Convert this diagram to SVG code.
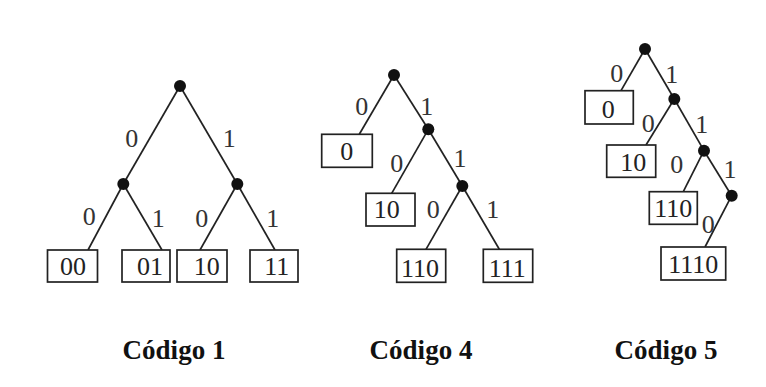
<svg xmlns="http://www.w3.org/2000/svg" width="766" height="387" viewBox="0 0 766 387">
  <style>
    .edge { stroke: #222; stroke-width: 1.7; fill: none; }
    .dot { fill: #111; }
    .leaf rect { fill: #fff; stroke: #222; stroke-width: 1.7; }
    text { font-family: "Liberation Serif", "Times New Roman", serif; fill: #222; }
    .bit { font-size: 26px; text-anchor: middle; fill: #333; }
    .code { font-size: 26px; text-anchor: middle; }
    .title { font-size: 27px; font-weight: bold; text-anchor: middle; fill: #111; }
  </style>
  <rect width="766" height="387" fill="#fff"/>

  <!-- Branches of the three trees -->
  <g id="connectors">
    <!-- Código 1 -->
    <line class="edge" x1="180" y1="86" x2="123.3" y2="184"/>
    <line class="edge" x1="180" y1="86" x2="237.3" y2="184"/>
    <line class="edge" x1="123.3" y1="184" x2="88" y2="250"/>
    <line class="edge" x1="123.3" y1="184" x2="162" y2="250"/>
    <line class="edge" x1="237.3" y1="184" x2="200" y2="250"/>
    <line class="edge" x1="237.3" y1="184" x2="275" y2="250"/>
    <!-- Código 4 -->
    <line class="edge" x1="394" y1="75" x2="359.3" y2="134.3"/>
    <line class="edge" x1="394" y1="75" x2="428.3" y2="129.3"/>
    <line class="edge" x1="428.3" y1="129.3" x2="391.7" y2="193.3"/>
    <line class="edge" x1="428.3" y1="129.3" x2="462.3" y2="186"/>
    <line class="edge" x1="462.3" y1="186" x2="426" y2="249.3"/>
    <line class="edge" x1="462.3" y1="186" x2="499.3" y2="249.3"/>
    <!-- Código 5 -->
    <line class="edge" x1="645" y1="49" x2="621" y2="90.7"/>
    <line class="edge" x1="645" y1="49" x2="674.3" y2="99"/>
    <line class="edge" x1="674.3" y1="99" x2="646" y2="145"/>
    <line class="edge" x1="674.3" y1="99" x2="704" y2="150.7"/>
    <line class="edge" x1="704" y1="150.7" x2="683.3" y2="191.7"/>
    <line class="edge" x1="704" y1="150.7" x2="731.7" y2="195.7"/>
    <line class="edge" x1="731.7" y1="195.7" x2="705" y2="247"/>
  </g>

  <!-- Branch bits -->
  <g id="bits">
    <text class="bit" x="131.7" y="147">0</text>
    <text class="bit" x="229.3" y="147">1</text>
    <text class="bit" x="89.3" y="225">0</text>
    <text class="bit" x="158.3" y="226.7">1</text>
    <text class="bit" x="201.7" y="226.7">0</text>
    <text class="bit" x="272.7" y="226.7">1</text>

    <text class="bit" x="361.7" y="115">0</text>
    <text class="bit" x="426.7" y="115">1</text>
    <text class="bit" x="396.7" y="171.7">0</text>
    <text class="bit" x="460" y="166.7">1</text>
    <text class="bit" x="433.3" y="218.3">0</text>
    <text class="bit" x="492.7" y="218.3">1</text>

    <text class="bit" x="616.7" y="81.7">0</text>
    <text class="bit" x="671.7" y="83.3">1</text>
    <text class="bit" x="648.3" y="131.7">0</text>
    <text class="bit" x="701.7" y="133.3">1</text>
    <text class="bit" x="676.7" y="173.3">0</text>
    <text class="bit" x="730" y="178.3">1</text>
    <text class="bit" x="708.3" y="233.3">0</text>
  </g>

  <!-- Internal nodes -->
  <g id="nodes-c1">
    <circle class="dot" cx="180" cy="86" r="6"/>
    <circle class="dot" cx="123.3" cy="184" r="6"/>
    <circle class="dot" cx="237.3" cy="184" r="6"/>
  </g>
  <g id="nodes-c4">
    <circle class="dot" cx="394" cy="75" r="6"/>
    <circle class="dot" cx="428.3" cy="129.3" r="6"/>
    <circle class="dot" cx="462.3" cy="186" r="6"/>
  </g>
  <g id="nodes-c5">
    <circle class="dot" cx="645" cy="49" r="6"/>
    <circle class="dot" cx="674.3" cy="99" r="6"/>
    <circle class="dot" cx="704" cy="150.7" r="6"/>
    <circle class="dot" cx="731.7" cy="195.7" r="6"/>
  </g>

  <!-- Código 1 leaves -->
  <g id="c1-00" class="leaf"><rect x="47.5" y="250" width="50" height="32"/><text class="code" x="73" y="275">00</text></g>
  <g id="c1-01" class="leaf"><rect x="122" y="250" width="48" height="32"/><text class="code" x="150" y="275">01</text></g>
  <g id="c1-10" class="leaf"><rect x="177" y="250" width="50" height="32"/><text class="code" x="206.7" y="275">10</text></g>
  <g id="c1-11" class="leaf"><rect x="250" y="250" width="48" height="32"/><text class="code" x="276.7" y="275">11</text></g>

  <!-- Código 4 leaves -->
  <g id="c4-0" class="leaf"><rect x="321.7" y="134.3" width="50.6" height="33"/><text class="code" x="346.7" y="160">0</text></g>
  <g id="c4-10" class="leaf"><rect x="366" y="193.3" width="49" height="32.7"/><text class="code" x="386.7" y="218.3">10</text></g>
  <g id="c4-110" class="leaf"><rect x="396.7" y="249.3" width="49" height="33"/><text class="code" x="420" y="277">110</text></g>
  <g id="c4-111" class="leaf"><rect x="483.3" y="249.3" width="49.4" height="33"/><text class="code" x="507.3" y="277">111</text></g>

  <!-- Código 5 leaves -->
  <g id="c5-0" class="leaf"><rect x="585" y="90.7" width="48.3" height="33.3"/><text class="code" x="608.3" y="118">0</text></g>
  <g id="c5-10" class="leaf"><rect x="606.7" y="145" width="49" height="32.3"/><text class="code" x="633.3" y="171">10</text></g>
  <g id="c5-110" class="leaf"><rect x="649.3" y="191.7" width="48" height="32.6"/><text class="code" x="673.3" y="216.7">110</text></g>
  <g id="c5-1110" class="leaf"><rect x="661" y="247" width="64.7" height="33"/><text class="code" x="693.3" y="273">1110</text></g>

  <!-- Captions -->
  <g id="captions">
    <text class="title" x="174" y="359">Código 1</text>
    <text class="title" x="421" y="359">Código 4</text>
    <text class="title" x="666" y="359">Código 5</text>
  </g>
</svg>
